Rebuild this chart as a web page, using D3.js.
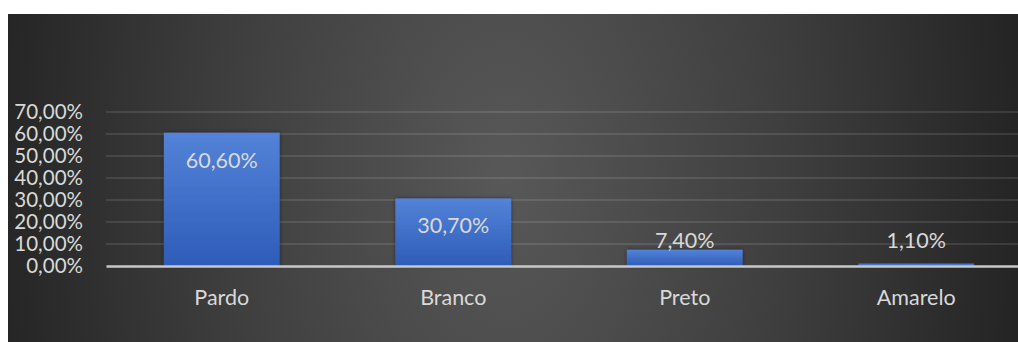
<!DOCTYPE html>
<html>
<head>
<meta charset="utf-8">
<script src="https://cdn.jsdelivr.net/npm/d3@7/dist/d3.min.js"></script>
<style>
  html, body { margin: 0; padding: 0; background: #ffffff; }
  svg { display: block; }
</style>
</head>
<body>
<svg id="chart" width="1018" height="342"></svg>
<script>
// Distribution by skin colour
const categories = ["Pardo", "Branco", "Preto", "Amarelo"];
const shares = [60.6, 30.7, 7.4, 1.1];
const tickValues = [0, 10, 20, 30, 40, 50, 60, 70];

const fmt = v => v.toFixed(2).replace(".", ",") + "%";

const W = 1018, H = 342;
const panel = { x: 8, y: 14, w: 1040, h: 340 };
const plot = { left: 106, right: 1032, top: 112, bottom: 266 };

const svg = d3.select("#chart");
const defs = svg.append("defs");

// panel shading: darker at the sides, lighter towards the middle
const bg = defs.append("radialGradient")
  .attr("id", "bg")
  .attr("gradientUnits", "userSpaceOnUse")
  .attr("cx", 505).attr("cy", 180)
  .attr("r", 520)
  .attr("gradientTransform", "translate(505,180) scale(1,1.6) translate(-505,-180)");
bg.append("stop").attr("offset", 0).attr("stop-color", "#585858");
bg.append("stop").attr("offset", 0.55).attr("stop-color", "#3e3e3e");
bg.append("stop").attr("offset", 1).attr("stop-color", "#242424");

const barGrad = defs.append("linearGradient")
  .attr("id", "bar").attr("x1", 0).attr("y1", 0).attr("x2", 0).attr("y2", 1);
barGrad.append("stop").attr("offset", 0).attr("stop-color", "#5383d8");
barGrad.append("stop").attr("offset", 1).attr("stop-color", "#2d5cb8");

const shadow = defs.append("filter").attr("id", "shadow")
  .attr("x", "-20%").attr("y", "-20%").attr("width", "140%").attr("height", "140%");
shadow.append("feDropShadow")
  .attr("dx", 0).attr("dy", 0).attr("stdDeviation", 2)
  .attr("flood-color", "#000").attr("flood-opacity", 0.45);

svg.append("rect")
  .attr("x", panel.x).attr("y", panel.y)
  .attr("width", panel.w).attr("height", panel.h)
  .attr("fill", "url(#bg)");

const x = d3.scaleBand()
  .domain(categories)
  .range([plot.left, plot.right])
  .paddingInner(0.5)
  .paddingOuter(0.25);

const y = d3.scaleLinear()
  .domain([0, 70])
  .range([plot.bottom, plot.top]);

const font = "Lato, 'Open Sans', sans-serif";
const textColor = "#d9d9d9";

// gridlines
svg.append("g")
  .selectAll("line")
  .data(tickValues.filter(t => t > 0))
  .join("line")
  .attr("x1", plot.left).attr("x2", plot.right)
  .attr("y1", d => y(d)).attr("y2", d => y(d))
  .attr("stroke", "#ffffff").attr("stroke-opacity", 0.14)
  .attr("stroke-width", 1.5);

// value axis labels
const yAxis = d3.axisLeft(y)
  .tickValues(tickValues)
  .tickFormat(fmt)
  .tickSize(0)
  .tickPadding(0);
const yg = svg.append("g")
  .attr("transform", "translate(83,0)")
  .call(yAxis);
yg.select(".domain").remove();
yg.selectAll("text")
  .attr("fill", textColor)
  .attr("font-family", font)
  .attr("font-size", "20.5px")
  .attr("dy", "0.33em");

// bars
svg.append("g")
  .selectAll("rect")
  .data(categories.map((c, i) => ({ c, v: shares[i] })))
  .join("rect")
  .attr("x", d => x(d.c))
  .attr("width", x.bandwidth())
  .attr("y", d => y(d.v))
  .attr("height", d => y(0) - y(d.v))
  .attr("fill", "url(#bar)")
  .attr("filter", "url(#shadow)");

// category axis
const xAxis = d3.axisBottom(x).tickSize(0).tickPadding(0);
const xg = svg.append("g")
  .attr("transform", `translate(0,${y(0)})`)
  .call(xAxis);
xg.select(".domain")
  .attr("stroke", "#c8c8c8")
  .attr("stroke-width", 2.5);
xg.selectAll("text")
  .attr("fill", textColor)
  .attr("font-family", font)
  .attr("font-size", "21.5px")
  .attr("dy", 0)
  .attr("y", 39);

// data labels at the inside end, kept above the axis for short bars
svg.append("g")
  .selectAll("text")
  .data(categories.map((c, i) => ({ c, v: shares[i] })))
  .join("text")
  .attr("x", d => x(d.c) + x.bandwidth() / 2)
  .attr("y", d => Math.min(y(d.v) + 35, y(0) - 18))
  .attr("text-anchor", "middle")
  .attr("fill", textColor)
  .attr("font-family", font)
  .attr("font-size", "21.5px")
  .text(d => d.v.toFixed(2).replace(".", ",") + "%");
</script>
</body>
</html>
